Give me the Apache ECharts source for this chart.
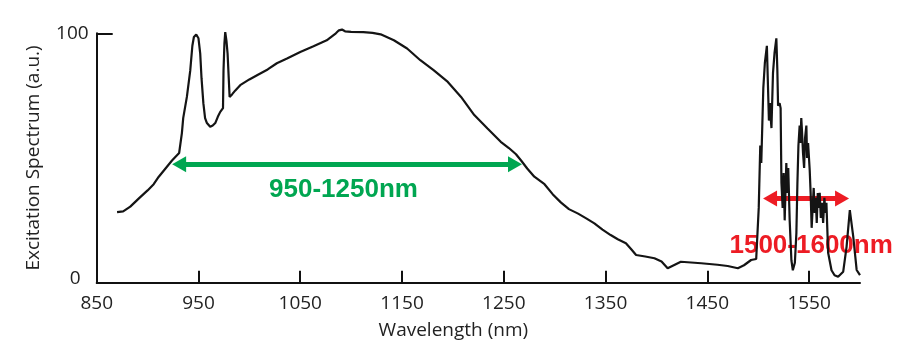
<!DOCTYPE html>
<html>
<head>
<meta charset="utf-8">
<script src="https://cdn.jsdelivr.net/npm/echarts@6/dist/echarts.min.js"></script>
<style>
html,body{margin:0;padding:0;background:#fff;}
#chart{width:900px;height:356px;}
</style>
</head>
<body>
<div id="chart"></div>
<script>
// ---- data ----
const wavelength = [
  870, 876, 883, 892, 900, 906, 911, 917, 924, 931,
  933.7, 935, 938.6, 941.9, 944, 945.5, 947.8, 950, 951.7, 953,
  954.8, 956.5, 958.3, 961.5, 964, 966.5, 969, 971.4, 974.1, 974.6,
  975.5, 976.3, 977.5, 978.6, 980.6, 983, 986, 991, 1000, 1008,
  1018, 1027, 1037, 1050, 1063, 1076, 1085, 1088, 1091, 1094,
  1100, 1112, 1121, 1129, 1142, 1155, 1168, 1181, 1195, 1208,
  1221, 1234, 1247, 1255, 1262, 1267, 1273, 1280, 1290, 1298,
  1306, 1314, 1323, 1331, 1339, 1347, 1355, 1362, 1370, 1375,
  1380, 1389, 1398, 1405, 1411, 1417, 1424, 1444, 1460, 1470,
  1480, 1486, 1493, 1498,
  1500.5, 1502, 1503, 1505, 1506.5, 1508.5, 1509.5, 1510.5, 1511.5, 1512.2,
  1513, 1514.5, 1516, 1517.8, 1518.8, 1519.5, 1521, 1522, 1522.8, 1524,
  1525, 1526, 1527.6, 1528.5, 1529.5, 1530.9, 1532.6, 1534, 1536, 1537.5,
  1538.5, 1539.5, 1540.7, 1541.5, 1542.3, 1543.1, 1544, 1545.1, 1546, 1547.3,
  1548, 1549, 1550.6, 1551.5, 1552.5, 1553.5, 1554.5, 1555.5, 1556.5, 1557.5,
  1558.5, 1559.5, 1560.4, 1561.5, 1562.5, 1563.8, 1565, 1566, 1567, 1568.7,
  1572, 1575, 1578.5, 1583.5, 1586.8, 1590, 1593.4, 1596.7, 1600
];
const intensity = [
  28.3, 28.6, 30.5, 34, 37, 39.5, 42.5, 45.5, 49, 52,
  60, 66, 74.5, 85, 95, 98.5, 99.5, 98, 92, 82,
  72, 66, 64, 62.5, 63, 64, 66.5, 68.5, 70, 85,
  96, 100.5, 97, 91.9, 74.5, 75.5, 77, 79.2, 81.5, 83.3,
  85.5, 88, 89.9, 92.5, 94.8, 97.2, 100, 101.2, 101.5, 100.8,
  100.6, 100.5, 100.2, 99.6, 97.2, 93.9, 89.2, 85.2, 80.5, 74.5,
  67.2, 61.8, 56.5, 54, 51.5, 49, 45.8, 42.5, 39.5, 35.5,
  32.2, 29.5, 27.7, 25.8, 23.8, 21.3, 19.1, 17.4, 15.8, 13.5,
  11.1, 10.5, 9.8, 8.5, 5.8, 7, 8.4, 7.8, 7.2, 6.7,
  5.8, 7, 9.1, 9.5,
  30, 55, 48, 78, 88, 95, 80, 65, 72, 66.5,
  62, 84, 92, 98, 85, 71, 72, 70, 40, 30,
  44, 25, 48, 36, 46, 25, 9, 5, 8, 20,
  40, 55, 63, 56, 66, 60, 52, 46, 58, 63,
  50, 56, 45, 36, 22, 30, 38, 28, 34, 24,
  36, 30, 36, 26, 32, 24, 34, 28, 32, 12,
  5, 3, 2.4, 4.4, 14.4, 29.1, 18.4, 5.1, 3
];
const xTickValues = [850, 950, 1050, 1150, 1250, 1350, 1450, 1550];
const yTickValues = [0, 100];
// annotation ranges: [start, end, level]
const greenArrow = [931, 1261, 47.5];
const redArrow = [1511.6, 1582.4, 33.8];
const greenText = ['950-1250nm', 1092.5, 37.1];
const redText = ['1500-1600nm', 1552, 14.7];

const FONT = '"Open Sans", "Liberation Sans", sans-serif';
const chart = echarts.init(document.getElementById('chart'), null, {renderer: 'canvas'});

const curve = wavelength.map((w, i) => [w, intensity[i]]);

chart.setOption({
  animation: false,
  backgroundColor: '#ffffff',
  grid: {left: 96.7, right: 40, top: 33.3, bottom: 73.3, containLabel: false},
  xAxis: {
    type: 'value', min: 850, max: 1600,
    name: 'Wavelength (nm)', nameLocation: 'middle', nameGap: 38,
    nameTextStyle: {fontFamily: FONT, fontSize: 19, color: '#222', padding: [0, 50, 0, 0]},
    axisLine: {show: true, onZero: false, lineStyle: {color: '#111', width: 2}},
    axisTick: {show: true, inside: true, length: 12, customValues: xTickValues, lineStyle: {color: '#111', width: 2}},
    axisLabel: {customValues: xTickValues, margin: 11, fontFamily: FONT, fontSize: 19, color: '#222',
                formatter: v => String(v)},
    splitLine: {show: false}
  },
  yAxis: {
    type: 'value', min: 0, max: 100,
    name: 'Excitation Spectrum (a.u.)', nameLocation: 'middle', nameGap: 54,
    nameTextStyle: {fontFamily: FONT, fontSize: 19, color: '#222'},
    axisLine: {show: true, onZero: false, lineStyle: {color: '#111', width: 2}},
    axisTick: {show: true, inside: true, length: 16, customValues: yTickValues, lineStyle: {color: '#111', width: 2}},
    axisLabel: {customValues: yTickValues, margin: 8, fontFamily: FONT, fontSize: 19, color: '#222',
                formatter: v => (v === 0 ? '{z|' + v + '}' : String(v)),
                rich: {z: {fontFamily: FONT, fontSize: 19, color: '#222', padding: [0, 8, 8, 0]}}},
    splitLine: {show: false}
  },
  series: [
    {
      type: 'scatter', z: 1, silent: true, symbolSize: 0,
      itemStyle: {opacity: 1},
      data: [
        {name: greenText[0], value: [greenText[1], greenText[2]],
         label: {color: '#00a651'}},
        {name: redText[0], value: [redText[1], redText[2]],
         label: {color: '#ed1c24'}}
      ],
      label: {show: true, position: 'inside', formatter: '{b}',
              fontFamily: '"Liberation Sans", Arial, sans-serif', fontWeight: 'bold', fontSize: 26}
    },
    {
      type: 'line', z: 1, silent: true, data: [],
      markLine: {
        silent: true, symbol: ['triangle', 'triangle'], symbolSize: [16, 14],
        label: {show: false},
        lineStyle: {type: 'solid', width: 5, opacity: 1},
        data: [
          [{coord: [greenArrow[0], greenArrow[2]], lineStyle: {color: '#00a651'}, itemStyle: {color: '#00a651'}},
           {coord: [greenArrow[1], greenArrow[2]]}],
          [{coord: [redArrow[0], redArrow[2]], lineStyle: {color: '#ed1c24'}, itemStyle: {color: '#ed1c24'}},
           {coord: [redArrow[1], redArrow[2]]}]
        ]
      }
    },
    {
      type: 'line', z: 5, silent: true, data: curve, clip: false,
      showSymbol: false, symbol: 'none', smooth: false,
      lineStyle: {color: '#141414', width: 2.2}
    }
  ]
});
</script>
</body>
</html>
